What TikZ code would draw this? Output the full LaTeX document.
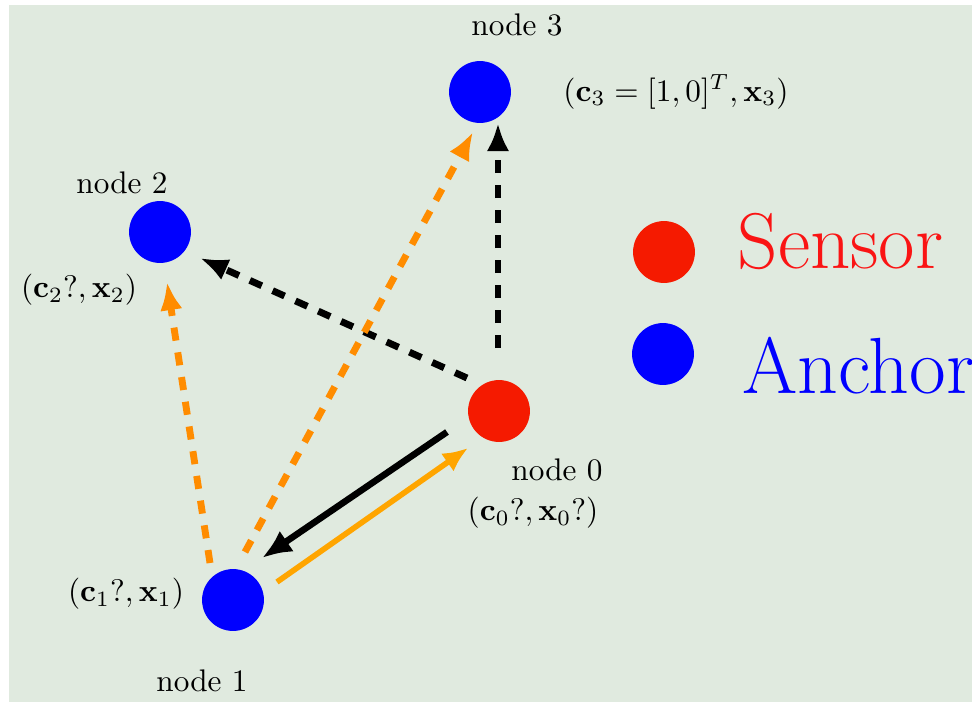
\documentclass[tikz,border=0pt]{standalone}
\usetikzlibrary{arrows.meta,calc}
\definecolor{bgc}{RGB}{224,234,223}
\definecolor{anchorblue}{RGB}{0,0,255}
\definecolor{sensorred}{RGB}{245,26,0}
\definecolor{textred}{RGB}{250,20,20}
\definecolor{dashorange}{RGB}{255,140,0}
\definecolor{solidorange}{RGB}{255,165,0}
\begin{document}
\begin{tikzpicture}[x=0.32pt,y=-0.32pt,
  dot/.style={circle,inner sep=0pt,minimum size=19.8pt},
  anchordot/.style={dot,fill=anchorblue},
  sensordot/.style={dot,fill=sensorred},
  lbl/.style={inner sep=0pt,font=\normalsize},
  dasharr/.style={line width=2.2pt,dash pattern=on 4.2pt off 3.8pt,-{Latex[length=9pt,width=7.2pt]}},
  solarr/.style={line width=2.1pt,-{Latex[length=9.5pt,width=8pt]}},
  solarrthin/.style={line width=1.8pt,-{Latex[length=8pt,width=7pt]}}
]
\useasboundingbox (0,0) rectangle (972,702);
\fill[white] (0,0) rectangle (972,702);
\fill[bgc] (9,5) rectangle (972,702);

% nodes
\node[anchordot] (n3) at (480,92) {};
\node[anchordot] (n2) at (160,232) {};
\node[sensordot] (n0) at (499,411) {};
\node[anchordot] (n1) at (233,600) {};

% labels
\node[lbl] (l3) at (517,25) {node 3};
\node[lbl] (m3) at (676,92) {$(\mathbf{c}_3=[1,0]^T,\mathbf{x}_3)$};
\node[lbl] (l2) at (122,183) {node 2};
\node[lbl] (m2) at (79,290) {$(\mathbf{c}_2?,\mathbf{x}_2)$};
\node[lbl] (l0) at (557,470) {node 0};
\node[lbl] (m0) at (533,513) {$(\mathbf{c}_0?,\mathbf{x}_0?)$};
\node[lbl] (m1) at (126,594) {$(\mathbf{c}_1?,\mathbf{x}_1)$};
\node[lbl] (l1) at (202,681) {node 1};

% connectors
\draw[dasharr,black] ([shift={(-1,-63)}]n0.center) -- ([shift={(18,31)}]n3.center);
\draw[dasharr,black] ([shift={(-32,-33)}]n0.center) -- ([shift={(40,26)}]n2.center);
\draw[dasharr,dashorange] ([shift={(12,-48)}]n1.center) -- ([shift={(-7,40)}]n3.center);
\draw[dasharr,dashorange] ([shift={(-23,-37)}]n1.center) -- ([shift={(7,50)}]n2.center);
\draw[solarr,black] ([shift={(-52,21)}]n0.center) -- ([shift={(29,-42)}]n1.center);
\draw[solarrthin,solidorange] ([shift={(44,-18)}]n1.center) -- ([shift={(-31,37)}]n0.center);

% legend
\node[sensordot] (ls) at (664,252) {};
\node[anchordot] (la) at (663,354) {};
\node[anchor=base west,inner sep=0pt,text=textred,font=\fontsize{25.3}{30}\selectfont] (ts) at (737,268) {Sensor};
\node[anchor=base west,inner sep=0pt,text=anchorblue,font=\fontsize{25.5}{30}\selectfont] (ta) at (742,393) {Anchor};
\end{tikzpicture}
\end{document}
